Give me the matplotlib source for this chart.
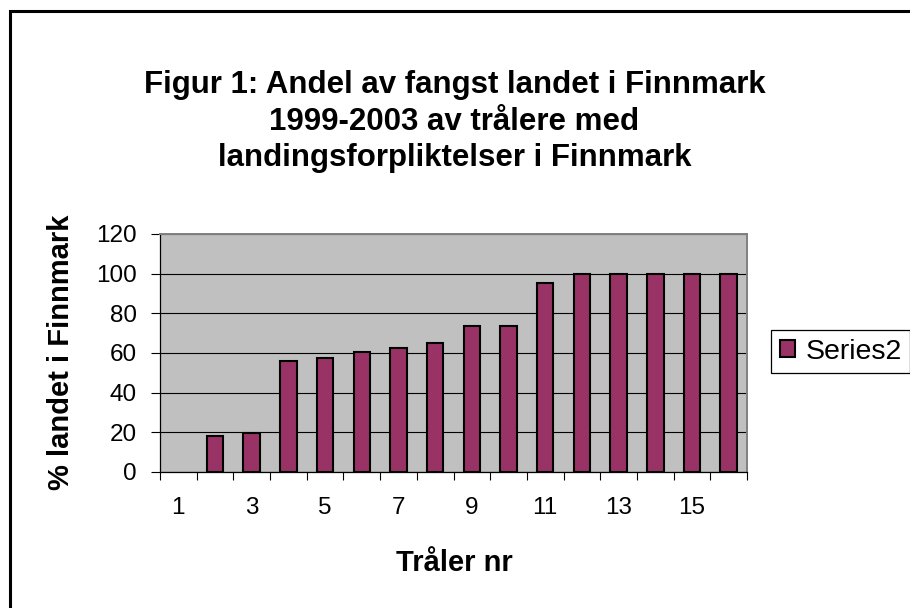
import matplotlib
matplotlib.use("Agg")
import matplotlib.pyplot as plt
from matplotlib.patches import Rectangle
from matplotlib.ticker import FixedLocator, NullFormatter

plt.rcParams['font.family'] = ['Liberation Sans', 'DejaVu Sans']

# ---- data ----
trawlers = list(range(1, 17))
share_landed = [0, 18.2, 19.5, 56.2, 57.5, 60.5, 62.7, 65.0, 73.4, 73.4,
                95.2, 100, 100, 100, 100, 100]
series_name = "Series2"
title_lines = ["Figur 1: Andel av fangst landet i Finnmark",
               "1999-2003 av trålere med",
               "landingsforpliktelser i Finnmark"]
x_label = "Tråler nr"
y_label = "% landet i Finnmark"
y_ticks = [0, 20, 40, 60, 80, 100, 120]
x_tick_labels = [1, 3, 5, 7, 9, 11, 13, 15]

W, H = 910, 608
fig = plt.figure(figsize=(W / 100, H / 100), dpi=100)
fig.patch.set_facecolor('white')

# outer chart border (clipped at right/bottom like the reference)
fig.add_artist(Rectangle((10 / W, -0.2), 1.2, (1 - 11 / H) + 0.2,
                         transform=fig.transFigure, fill=False,
                         edgecolor='black', linewidth=2.2, clip_on=False))

ax = fig.add_axes([160 / W, 1 - 472 / H, (747 - 160) / W, (472 - 234) / H])
ax.set_facecolor('#C0C0C0')

edge_widths = [1.5 if v > 0 else 0 for v in share_landed]
bars = ax.bar(trawlers, share_landed, width=0.45, color='#993366',
              edgecolor='black', linewidth=edge_widths, label=series_name,
              zorder=3)

ax.set_xlim(0.5, 16.5)
ax.set_ylim(0, 120)
ax.set_yticks(y_ticks)
ax.set_yticklabels([str(v) for v in y_ticks])
ax.yaxis.grid(True, color='black', linewidth=0.8, zorder=1)
ax.set_axisbelow(True)

# x: tick marks between categories, labels on every other category
ax.xaxis.set_major_locator(FixedLocator([i + 0.5 for i in range(0, 17)]))
ax.xaxis.set_major_formatter(NullFormatter())
ax.xaxis.set_minor_locator(FixedLocator(x_tick_labels))
ax.set_xticklabels([str(v) for v in x_tick_labels], minor=True)
ax.tick_params(axis='x', which='major', direction='out', length=6,
               width=0.8, color='black')
ax.tick_params(axis='x', which='minor', length=0, pad=18, labelsize=17.5)
ax.tick_params(axis='y', direction='out', length=6.5, width=0.8,
               pad=10, labelsize=17.5, color='black')

for side in ('top', 'right'):
    ax.spines[side].set_color('#808080')
    ax.spines[side].set_linewidth(1.4)
for side in ('left', 'bottom'):
    ax.spines[side].set_color('black')
    ax.spines[side].set_linewidth(0.9)

# titles / labels
title_y = [85, 122, 158]
for line, yy in zip(title_lines, title_y):
    fig.text(454.5 / W, 1 - yy / H, line, ha='center', va='center',
             fontsize=22.5, fontweight='bold')
fig.text(454 / W, 1 - 563 / H, x_label, ha='center', va='center',
         fontsize=21, fontweight='bold')
fig.text(61 / W, 1 - 352 / H, y_label, ha='center', va='center',
         rotation=90, fontsize=21, fontweight='bold')

leg = fig.legend(handles=[bars[1]], labels=[series_name], loc='upper left',
                 bbox_to_anchor=(771 / W, 1 - 330 / H), fontsize=20.5,
                 frameon=True, fancybox=False, shadow=False,
                 borderpad=0.3, handlelength=0.56, handleheight=0.56,
                 handletextpad=0.35, borderaxespad=0)
leg.get_frame().set_edgecolor('black')
leg.get_frame().set_linewidth(0.9)
leg.get_frame().set_facecolor('white')
leg.get_frame().set_alpha(1)

fig.savefig('out.png', dpi=100)
